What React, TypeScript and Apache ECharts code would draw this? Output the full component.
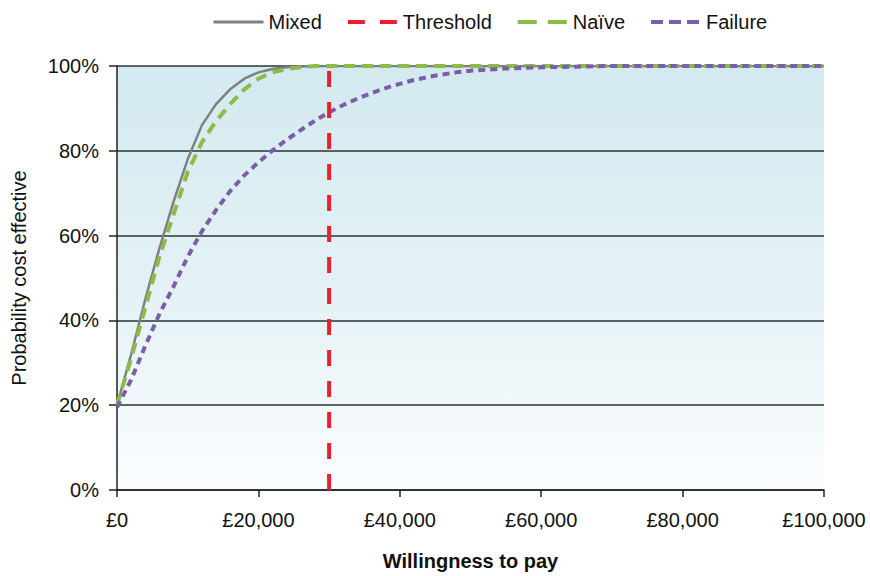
import React, { useEffect, useRef } from "react";
import * as echarts from "echarts";

const wtp = [
  0, 2000, 4000, 6000, 8000, 10000, 12000, 14000, 16000, 18000, 20000, 22000, 24000,
  26000, 28000, 30000, 32000, 34000, 36000, 38000, 40000, 42000, 44000, 46000, 48000,
  50000, 55000, 60000, 65000, 70000, 75000, 80000, 85000, 90000, 95000, 100000,
];
const mixed = [
  20, 32, 45, 57, 68, 78, 86, 91, 94.5, 97, 98.5, 99.3, 99.7, 99.9, 100, 100, 100, 100,
  100, 100, 100, 100, 100, 100, 100, 100, 100, 100, 100, 100, 100, 100, 100, 100, 100, 100,
];
const naive = [
  20, 31, 43, 55, 65, 75, 82, 87, 91, 94.5, 97, 98.5, 99.3, 99.7, 100, 100, 100, 100,
  100, 100, 100, 100, 100, 100, 100, 100, 100, 100, 100, 100, 100, 100, 100, 100, 100, 100,
];
const failure = [
  19.5, 26, 34, 41.5, 48, 55, 61, 66, 70.5, 74.2, 77.3, 80.1, 82.6, 84.9, 87.1, 89.1, 90.8,
  92.3, 93.6, 94.8, 95.8, 96.7, 97.4, 98, 98.5, 98.9, 99.4, 99.7, 99.85, 100, 100, 100, 100,
  100, 100, 100,
];
const thresholdX = [30000, 30000];
const thresholdY = [0, 100];
const legendNames = ["Mixed", "Threshold", "Naïve", "Failure"];

const FONT = "'Liberation Sans', Arial, sans-serif";

export default function App() {
  const ref = useRef<HTMLDivElement>(null);
  useEffect(() => {
    if (!ref.current) return;
    const chart = echarts.init(ref.current, undefined, { renderer: "svg" });
    const pair = (ys: number[]) => wtp.map((x, i) => [x, ys[i]]);
    chart.setOption({
      animation: false,
      textStyle: { fontFamily: FONT },
      legend: {
        data: [
          { name: legendNames[0], lineStyle: { width: 3 } },
          { name: legendNames[1], lineStyle: { width: 4, type: [17, 15] } },
          { name: legendNames[2], lineStyle: { width: 4, type: [19, 11] } },
          { name: legendNames[3], lineStyle: { width: 4, type: [12, 6] } },
        ],
        left: 207,
        top: 7,
        itemWidth: 50,
        itemHeight: 14,
        itemGap: 24,
        itemStyle: { opacity: 0 },
        lineStyle: { width: 4 },
        textStyle: { fontSize: 20, color: "#111", fontFamily: FONT },
      },
      grid: {
        left: 117,
        right: 46,
        top: 66,
        bottom: 85,
        show: true,
        borderWidth: 0,
        backgroundColor: new echarts.graphic.LinearGradient(0, 0, 0, 1, [
          { offset: 0, color: "#d3eaf0" },
          { offset: 0.5, color: "#e3f1f5" },
          { offset: 1, color: "#fbfdfe" },
        ]),
      },
      xAxis: {
        type: "value",
        min: 0,
        max: 100000,
        interval: 20000,
        name: "Willingness to pay",
        nameLocation: "middle",
        nameGap: 61,
        nameTextStyle: { fontSize: 20, fontWeight: "bold", color: "#111", fontFamily: FONT },
        axisLine: { show: true, lineStyle: { color: "#222", width: 1.5 } },
        axisTick: { show: true, length: 7, lineStyle: { color: "#222", width: 1.5 } },
        axisLabel: {
          margin: 20,
          fontSize: 20,
          color: "#111",
          fontFamily: FONT,
          formatter: (v: number) => "£" + v.toLocaleString("en-GB"),
        },
        splitLine: { show: false },
      },
      yAxis: {
        type: "value",
        min: 0,
        max: 100,
        interval: 20,
        name: "Probability cost effective",
        nameLocation: "middle",
        nameGap: 88,
        nameTextStyle: { fontSize: 20, color: "#111", fontFamily: FONT },
        axisLine: { show: true, lineStyle: { color: "#222", width: 1.5 } },
        axisTick: { show: true, length: 8, lineStyle: { color: "#222", width: 1.5 } },
        axisLabel: {
          margin: 18,
          fontSize: 20,
          color: "#111",
          fontFamily: FONT,
          formatter: "{value}%",
        },
        splitLine: { show: true, lineStyle: { color: "#2a3535", width: 1.5 } },
      },
      series: [
        {
          name: "Mixed",
          type: "line",
          symbol: "none",
          data: pair(mixed),
          lineStyle: { color: "#808080", width: 2.5 },
          itemStyle: { color: "#808080" },
          z: 3,
        },
        {
          name: "Naïve",
          type: "line",
          symbol: "none",
          data: pair(naive),
          lineStyle: { color: "#8dbb4a", width: 4, type: [11, 7] },
          itemStyle: { color: "#8dbb4a" },
          z: 4,
        },
        {
          name: "Failure",
          type: "line",
          symbol: "none",
          data: pair(failure),
          lineStyle: { color: "#7b5ea8", width: 4, type: [7, 5] },
          itemStyle: { color: "#7b5ea8" },
          z: 4,
        },
        {
          name: "Threshold",
          type: "line",
          symbol: "none",
          data: thresholdX.map((x, i) => [x, thresholdY[i]]),
          lineStyle: { color: "#e8212b", width: 4, type: [16, 15] },
          itemStyle: { color: "#e8212b" },
          z: 5,
        },
      ],
    });
    return () => chart.dispose();
  }, []);
  return (
    <div
      ref={ref}
      style={{ position: "absolute", left: 0, top: 0, width: 870, height: 576 }}
    />
  );
}
